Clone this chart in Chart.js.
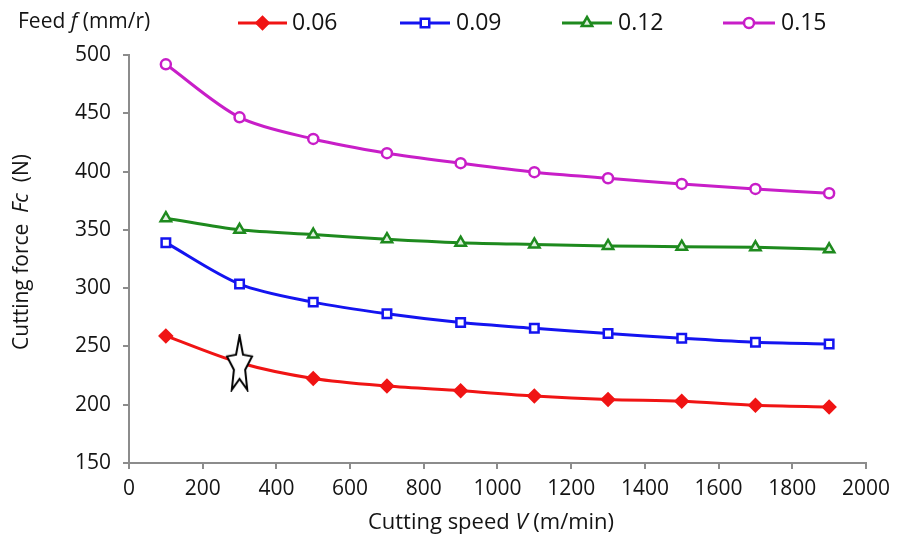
<!DOCTYPE html>
<html>
<head>
<meta charset="utf-8">
<script src="https://cdn.jsdelivr.net/npm/chart.js@4/dist/chart.umd.min.js"></script>
<style>
  html, body { margin: 0; padding: 0; background: #fff; }
  #wrap { width: 897px; height: 542px; }
</style>
</head>
<body>
<div id="wrap"><canvas id="chart" width="897" height="542"></canvas></div>
<script>
// Cutting speed V (m/min)
const speeds = [100, 300, 500, 700, 900, 1100, 1300, 1500, 1700, 1900];
// Cutting force Fc (N), one array per feed
const feed006 = [259, 236, 222.5, 216, 212, 207.5, 204.5, 203, 199.5, 198];
const feed009 = [339, 303.5, 288, 278, 270.5, 265.5, 261, 257, 253.5, 252];
const feed012 = [360, 350, 346, 342, 339, 337.5, 336.2, 335.6, 335, 333.3];
const feed015 = [492, 446.5, 428, 415.8, 407.2, 399.5, 394.3, 389.4, 385.1, 381.4];
const feedLabels = ["0.06", "0.09", "0.12", "0.15"];
// the star mark placed on the 0.06 curve
const starPoint = [{ x: 300, y: 236 }];

const xTicks = [0, 200, 400, 600, 800, 1000, 1200, 1400, 1600, 1800, 2000];
const yTicks = [150, 200, 250, 300, 350, 400, 450, 500];

const FONT = "'Open Sans', 'DejaVu Sans', sans-serif";
const axisGrey = "#8c8c8c";
const textColor = "#141414";

// star image for the pointStyle
function makeStar(w, h) {
  const c = document.createElement("canvas");
  c.width = w + 4;
  c.height = h + 4;
  const g = c.getContext("2d");
  const sx = w / 1.902, sy = h / 1.809;
  const cx = c.width / 2, cy = 2 + sy;
  const inner = 0.45;
  g.beginPath();
  for (let i = 0; i < 10; i++) {
    const r = i % 2 === 0 ? 1 : inner;
    const a = -Math.PI / 2 + (i * Math.PI) / 5;
    const px = cx + Math.cos(a) * r * sx;
    const py = cy + Math.sin(a) * r * sy;
    if (i === 0) g.moveTo(px, py);
    else g.lineTo(px, py);
  }
  g.closePath();
  g.fillStyle = "#fff";
  g.fill();
  g.lineWidth = 2;
  g.lineJoin = "miter";
  g.strokeStyle = "#000";
  g.stroke();
  return c;
}
const starImg = makeStar(25, 54);

function toXY(ys) {
  return speeds.map((v, i) => ({ x: v, y: ys[i] }));
}

const seriesStyle = [
  { color: "#f01414", style: "rectRot", radius: 6, fill: "#f01414" },
  { color: "#1414f0", style: "rect", radius: 6, fill: "#fff" },
  { color: "#1e8a1e", style: "triangle", radius: 6, fill: "#dff0df" },
  { color: "#c81ec8", style: "circle", radius: 5, fill: "#fff" },
];
const seriesData = [feed006, feed009, feed012, feed015];

const datasets = seriesData.map((ys, i) => ({
  label: feedLabels[i],
  data: toXY(ys),
  borderColor: seriesStyle[i].color,
  backgroundColor: seriesStyle[i].fill,
  pointBorderColor: seriesStyle[i].color,
  pointBackgroundColor: seriesStyle[i].fill,
  pointStyle: seriesStyle[i].style,
  pointRadius: seriesStyle[i].radius,
  pointBorderWidth: 2.5,
  borderWidth: 3,
  tension: 0.3,
  fill: false,
}));
datasets.push({
  label: "star",
  data: starPoint,
  pointStyle: starImg,
  showLine: false,
  order: -1,
});

// draw text made of normal / italic pieces
function richText(ctx, parts, x, y, size, align) {
  ctx.save();
  ctx.textBaseline = "middle";
  ctx.fillStyle = textColor;
  let total = 0;
  parts.forEach((p) => {
    ctx.font = (p.i ? "italic " : "") + size + "px " + FONT;
    p.w = ctx.measureText(p.t).width;
    total += p.w;
  });
  let cur = align === "center" ? x - total / 2 : x;
  ctx.textAlign = "left";
  parts.forEach((p) => {
    ctx.font = (p.i ? "italic " : "") + size + "px " + FONT;
    ctx.fillText(p.t, cur, y);
    cur += p.w;
  });
  ctx.restore();
}

const textPlugin = {
  id: "texts",
  afterDraw(chart) {
    const ctx = chart.ctx;
    // legend title
    richText(ctx, [{ t: "Feed " }, { t: "f", i: true }, { t: " (mm/r)" }], 18, 22, 21, "left");
    // legend items
    const items = [
      { x0: 238, x1: 287, tx: 292 },
      { x0: 400, x1: 450, tx: 456 },
      { x0: 562, x1: 612, tx: 618 },
      { x0: 723, x1: 775, tx: 781 },
    ];
    items.forEach((it, i) => {
      const s = seriesStyle[i];
      ctx.save();
      ctx.strokeStyle = s.color;
      ctx.lineWidth = 3;
      ctx.beginPath();
      ctx.moveTo(it.x0, 23);
      ctx.lineTo(it.x1, 23);
      ctx.stroke();
      ctx.fillStyle = s.fill;
      ctx.lineWidth = 2.5;
      Chart.helpers.drawPoint(ctx, { pointStyle: s.style, radius: s.radius, borderWidth: 2.5 }, (it.x0 + it.x1) / 2, 23);
      ctx.restore();
      richText(ctx, [{ t: feedLabels[i] }], it.tx, 23, 23, "left");
    });
    // axis titles
    richText(ctx, [{ t: "Cutting speed " }, { t: "V", i: true }, { t: " (m/min)" }], 491, 523, 22, "center");
    ctx.save();
    ctx.translate(22, 252);
    ctx.rotate(-Math.PI / 2);
    richText(ctx, [{ t: "Cutting force  " }, { t: "Fc", i: true }, { t: "  (N)" }], 0, 0, 21, "center");
    ctx.restore();
  },
};

new Chart(document.getElementById("chart"), {
  type: "line",
  data: { datasets: datasets },
  options: {
    responsive: false,
    animation: false,
    events: [],
    layout: { padding: { left: 0, top: 55, right: 30, bottom: 0 } },
    plugins: {
      legend: { display: false },
      tooltip: { enabled: false },
    },
    scales: {
      x: {
        type: "linear",
        min: 0,
        max: 2000,
        afterBuildTicks: (s) => { s.ticks = xTicks.map((v) => ({ value: v })); },
        afterFit: (s) => { s.height = 79; },
        grid: { drawOnChartArea: false, drawTicks: true, tickLength: 6, color: axisGrey, lineWidth: 2 },
        border: { color: axisGrey, width: 2 },
        ticks: {
          color: textColor,
          padding: 7,
          font: { family: FONT, size: 21 },
          maxRotation: 0,
          callback: (v) => String(v),
        },
      },
      y: {
        type: "linear",
        min: 150,
        max: 500,
        afterBuildTicks: (s) => { s.ticks = yTicks.map((v) => ({ value: v })); },
        afterFit: (s) => { s.width = 129; },
        grid: { drawOnChartArea: false, drawTicks: true, tickLength: 6, color: axisGrey, lineWidth: 2 },
        border: { color: axisGrey, width: 2 },
        ticks: {
          color: textColor,
          padding: 12,
          font: { family: FONT, size: 21 },
          callback: (v) => String(v),
        },
      },
    },
  },
  plugins: [textPlugin],
});
</script>
</body>
</html>
